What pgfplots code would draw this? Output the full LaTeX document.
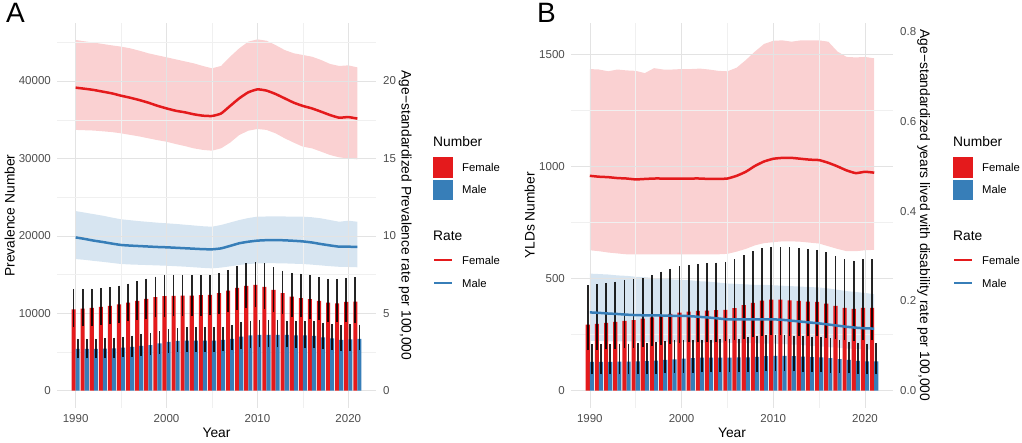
\documentclass[border=0pt]{standalone}
\usepackage{pgfplots}
\pgfplotsset{compat=1.18}
\usepackage{pgfplotstable}
\usepgfplotslibrary{fillbetween}
\usepackage{fontspec}
\setmainfont{Liberation Sans}
\definecolor{fem}{HTML}{E41A1C}
\definecolor{mal}{HTML}{377EB8}
\definecolor{gmaj}{HTML}{E3E3E3}
\definecolor{gmin}{HTML}{F0F0F0}
\definecolor{tickc}{HTML}{4D4D4D}

% Panel A: prevalence number (val, lower, upper)
\pgfplotstableread{
year val lo hi
1990 10517 8280 13150
1991 10600 8330 13150
1992 10690 8400 13190
1993 10820 8500 13230
1994 10950 8600 13400
1995 11160 8790 13580
1996 11380 8940 13840
1997 11600 9110 14140
1998 11850 9300 14480
1999 12070 9470 14740
2000 12200 9480 14910
2001 12240 9610 14950
2002 12280 9640 14950
2003 12290 9650 14910
2004 12330 9680 14910
2005 12370 9780 15000
2006 12600 9900 15170
2007 12930 10150 15600
2008 13280 10430 16120
2009 13530 10620 16470
2010 13660 10780 16600
2011 13400 10520 16470
2012 13020 10220 15950
2013 12590 9880 15520
2014 12150 9540 15220
2015 11940 9480 15130
2016 11810 9270 15000
2017 11600 9100 14660
2018 11380 8930 14440
2019 11290 8860 14440
2020 11470 8900 14570
2021 11510 8790 14660
}\numAF
\pgfplotstableread{
year val lo hi
1990 5390 4180 6720
1991 5390 4180 6720
1992 5400 4190 6730
1993 5430 4210 6760
1994 5470 4240 6840
1995 5560 4320 6980
1996 5650 4390 7100
1997 5780 4490 7280
1998 5900 4590 7460
1999 6120 4760 7700
2000 6290 4900 7930
2001 6420 5000 8060
2002 6470 5040 8190
2003 6470 5040 8190
2004 6470 5040 8190
2005 6470 5040 8190
2006 6550 5100 8280
2007 6680 5200 8490
2008 6980 5430 8880
2009 7150 5570 9050
2010 7200 5600 9140
2011 7200 5600 9140
2012 7200 5600 9140
2013 7200 5600 9050
2014 7150 5570 9050
2015 7150 5570 9050
2016 7070 5500 9050
2017 6900 5370 8790
2018 6770 5270 8620
2019 6550 5100 8490
2020 6640 5170 8580
2021 6680 5200 8530
}\numAM
% Panel A: age-standardized prevalence rate
\pgfplotstableread{
year f fl fh m ml mh
1990 19.57 16.84 22.65 9.90 8.50 11.60
1991 19.50 16.82 22.56 9.80 8.45 11.50
1992 19.42 16.80 22.48 9.69 8.38 11.40
1993 19.31 16.75 22.39 9.60 8.32 11.30
1994 19.20 16.70 22.30 9.50 8.25 11.18
1995 19.05 16.62 22.22 9.41 8.18 11.07
1996 18.92 16.52 22.11 9.37 8.15 11.01
1997 18.77 16.42 21.96 9.34 8.13 10.95
1998 18.60 16.30 21.79 9.31 8.11 10.90
1999 18.40 16.18 21.66 9.28 8.09 10.85
2000 18.23 16.08 21.53 9.26 8.07 10.81
2001 18.08 15.93 21.40 9.23 8.04 10.77
2002 17.98 15.80 21.27 9.20 8.01 10.72
2003 17.85 15.65 21.14 9.17 7.97 10.67
2004 17.76 15.55 20.97 9.14 7.93 10.62
2005 17.74 15.50 20.82 9.13 7.90 10.59
2006 17.90 15.65 20.97 9.19 7.95 10.70
2007 18.39 16.02 21.57 9.35 8.03 10.86
2008 18.88 16.51 22.11 9.52 8.12 11.02
2009 19.27 16.79 22.54 9.62 8.18 11.15
2010 19.46 16.90 22.69 9.69 8.22 11.24
2011 19.38 16.84 22.60 9.72 8.23 11.25
2012 19.16 16.62 22.32 9.73 8.23 11.25
2013 18.88 16.30 22.00 9.71 8.22 11.25
2014 18.60 16.02 21.79 9.68 8.20 11.24
2015 18.39 15.76 21.68 9.64 8.18 11.24
2016 18.23 15.65 21.57 9.57 8.14 11.20
2017 18.02 15.44 21.36 9.47 8.09 11.13
2018 17.80 15.22 21.10 9.38 8.04 11.02
2019 17.63 15.07 20.97 9.30 8.00 10.91
2020 17.67 15.00 21.01 9.30 7.99 10.98
2021 17.57 14.94 20.88 9.28 7.97 10.91
}\rateA
% Panel B: YLDs number
\pgfplotstableread{
year val lo hi
1990 295 180 469
1991 298 182 475
1992 302 184 481
1993 307 187 486
1994 311 190 494
1995 315 192 498
1996 321 196 504
1997 327 199 516
1998 333 203 531
1999 342 209 543
2000 348 212 554
2001 353 215 561
2002 356 217 565
2003 357 218 568
2004 359 219 571
2005 360 220 574
2006 368 224 586
2007 381 232 604
2008 391 239 622
2009 402 245 634
2010 406 248 640
2011 406 248 640
2012 403 246 640
2013 400 244 635
2014 397 242 631
2015 396 242 628
2016 388 237 618
2017 378 231 601
2018 369 225 586
2019 365 223 580
2020 369 225 586
2021 369 225 586
}\numBF
\pgfplotstableread{
year val lo hi
1990 129 73 207
1991 129 73 208
1992 129 73 209
1993 130 73 210
1994 130 73 210
1995 131 74 211
1996 132 74 214
1997 134 75 218
1998 137 77 222
1999 140 79 224
2000 143 80 226
2001 145 81 227
2002 147 82 228
2003 147 82 228
2004 147 82 229
2005 147 82 229
2006 148 83 231
2007 149 84 238
2008 151 85 244
2009 154 86 247
2010 155 87 248
2011 155 87 248
2012 154 86 246
2013 152 85 244
2014 150 84 241
2015 148 83 239
2016 145 81 235
2017 141 79 227
2018 137 77 219
2019 133 75 214
2020 131 73 210
2021 131 73 211
}\numBM
% Panel B: age-standardized YLD rate
\pgfplotstableread{
year f fl fh m ml mh
1990 0.479 0.313 0.717 0.1745 0.111 0.261
1991 0.477 0.311 0.716 0.1735 0.111 0.260
1992 0.476 0.308 0.712 0.172 0.110 0.259
1993 0.474 0.306 0.716 0.171 0.110 0.257
1994 0.473 0.304 0.714 0.1695 0.110 0.256
1995 0.471 0.304 0.713 0.1685 0.110 0.254
1996 0.472 0.304 0.708 0.168 0.109 0.253
1997 0.473 0.304 0.719 0.168 0.109 0.251
1998 0.473 0.304 0.716 0.1675 0.109 0.250
1999 0.473 0.304 0.716 0.167 0.108 0.248
2000 0.473 0.304 0.717 0.167 0.108 0.247
2001 0.473 0.304 0.717 0.166 0.108 0.246
2002 0.473 0.304 0.718 0.1645 0.107 0.244
2003 0.472 0.304 0.716 0.163 0.107 0.243
2004 0.472 0.304 0.713 0.161 0.107 0.241
2005 0.473 0.305 0.712 0.159 0.107 0.239
2006 0.479 0.310 0.720 0.159 0.106 0.238
2007 0.488 0.316 0.737 0.159 0.106 0.237
2008 0.501 0.324 0.756 0.159 0.106 0.236
2009 0.511 0.329 0.773 0.159 0.105 0.236
2010 0.517 0.331 0.780 0.159 0.105 0.235
2011 0.519 0.333 0.781 0.158 0.104 0.234
2012 0.519 0.333 0.778 0.156 0.103 0.233
2013 0.517 0.332 0.781 0.154 0.102 0.232
2014 0.515 0.330 0.781 0.152 0.100 0.231
2015 0.514 0.328 0.781 0.150 0.099 0.230
2016 0.508 0.322 0.778 0.1475 0.097 0.228
2017 0.500 0.316 0.756 0.145 0.096 0.225
2018 0.491 0.311 0.744 0.1425 0.094 0.222
2019 0.485 0.311 0.743 0.1405 0.093 0.220
2020 0.488 0.313 0.744 0.139 0.092 0.218
2021 0.486 0.314 0.741 0.1385 0.091 0.215
}\rateB

\pgfplotsset{
  base/.style={
    scale only axis, height=385.5pt,
    xmin=1987.95, xmax=2023.05,
    axis line style={draw=none},
    major tick style={draw=none}, minor tick style={draw=none},
    scaled ticks=false,
    /pgf/number format/assume math mode=true,
    /pgf/number format/1000 sep={},
    tick label style={font=\fontsize{11.5}{12}\selectfont, text=tickc},
  },
  numaxis/.style={
    base,
    xtick={1990,2000,2010,2020}, minor xtick={1995,2005,2015},
    grid=both,
    major grid style={gmaj, line width=0.6pt},
    minor grid style={gmin, line width=0.4pt},
    yticklabel style={anchor=east, inner sep=0pt, xshift=-6pt},
    xticklabel style={anchor=north, inner sep=0pt, yshift=-6.5pt},
  },
  rateaxis/.style={
    base, xtick=\empty, yticklabel pos=right,
    yticklabel style={anchor=west, inner sep=0pt, xshift=7pt},
  },
  errs/.style={error bars/.cd, y dir=both, y explicit, error mark=none,
    error bar style={line width=1.7pt, black, opacity=0.85}},
  barbase/.style={ybar, bar width=0.45, bar shift=0pt, draw=none, errs},
}
\newcommand{\ttl}{\fontsize{13.8}{14}\selectfont}
\newcommand{\lbl}{\fontsize{11.3}{12}\selectfont}

\begin{document}
\begin{tikzpicture}

% ---------------- Panel A ----------------
\begin{axis}[numaxis, at={(57pt,33.8pt)}, anchor=south west, width=319pt,
  ymin=-2263, ymax=47530,
  ytick={0,10000,20000,30000,40000}, minor ytick={5000,15000,25000,35000,45000}]
\addplot[fill=fem, barbase] table[x expr=\thisrow{year}-0.225, y=val, y error plus expr=\thisrow{hi}-\thisrow{val}, y error minus expr=\thisrow{val}-\thisrow{lo}] {\numAF};
\addplot[fill=mal, barbase] table[x expr=\thisrow{year}+0.225, y=val, y error plus expr=\thisrow{hi}-\thisrow{val}, y error minus expr=\thisrow{val}-\thisrow{lo}] {\numAM};
\end{axis}
\begin{axis}[rateaxis, at={(57pt,33.8pt)}, anchor=south west, width=319pt,
  ymin=-1.1315, ymax=23.765, ytick={0,5,10,15,20}]
\addplot[name path=afh, draw=none] table[x=year,y=fh] {\rateA};
\addplot[name path=afl, draw=none] table[x=year,y=fl] {\rateA};
\addplot[fill=fem, fill opacity=0.2, draw=none] fill between[of=afh and afl];
\addplot[name path=amh, draw=none] table[x=year,y=mh] {\rateA};
\addplot[name path=aml, draw=none] table[x=year,y=ml] {\rateA};
\addplot[fill=mal, fill opacity=0.2, draw=none] fill between[of=amh and aml];
\addplot[fem, line width=2.5pt, smooth, tension=0.3] table[x=year,y=f] {\rateA};
\addplot[mal, line width=2.5pt, smooth, tension=0.3] table[x=year,y=m] {\rateA};
\end{axis}

% ---------------- Panel B ----------------
\begin{axis}[numaxis, at={(571pt,33.8pt)}, anchor=south west, width=322pt,
  ymin=-78.1, ymax=1640.7,
  ytick={0,500,1000,1500}, minor ytick={250,750,1250}]
\addplot[fill=fem, barbase] table[x expr=\thisrow{year}-0.225, y=val, y error plus expr=\thisrow{hi}-\thisrow{val}, y error minus expr=\thisrow{val}-\thisrow{lo}] {\numBF};
\addplot[fill=mal, barbase] table[x expr=\thisrow{year}+0.225, y=val, y error plus expr=\thisrow{hi}-\thisrow{val}, y error minus expr=\thisrow{val}-\thisrow{lo}] {\numBM};
\end{axis}
\begin{axis}[rateaxis, at={(571pt,33.8pt)}, anchor=south west, width=322pt,
  ymin=-0.03905, ymax=0.82035, ytick={0,0.2,0.4,0.6,0.8},
  yticklabel style={/pgf/number format/.cd, fixed, fixed zerofill, precision=1}]
\addplot[name path=bfh, draw=none] table[x=year,y=fh] {\rateB};
\addplot[name path=bfl, draw=none] table[x=year,y=fl] {\rateB};
\addplot[fill=fem, fill opacity=0.2, draw=none] fill between[of=bfh and bfl];
\addplot[name path=bmh, draw=none] table[x=year,y=mh] {\rateB};
\addplot[name path=bml, draw=none] table[x=year,y=ml] {\rateB};
\addplot[fill=mal, fill opacity=0.2, draw=none] fill between[of=bmh and bml];
\addplot[fem, line width=2.5pt, smooth, tension=0.3] table[x=year,y=f] {\rateB};
\addplot[mal, line width=2.5pt, smooth, tension=0.3] table[x=year,y=m] {\rateB};
\end{axis}

% ---------------- Titles ----------------
\node[anchor=base west, inner sep=0pt] at (6pt,419.3pt) {\fontsize{28}{28}\selectfont A};
\node[anchor=base west, inner sep=0pt] at (537pt,419.3pt) {\fontsize{28}{28}\selectfont B};
\node[anchor=base, inner sep=0pt] at (216.5pt,5pt) {\ttl Year};
\node[anchor=base, inner sep=0pt] at (732pt,5pt) {\ttl Year};
\node[anchor=base, inner sep=0pt, rotate=90] at (14.5pt,226.5pt) {\ttl Prevalence Number};
\node[anchor=base, inner sep=0pt, rotate=90] at (534.5pt,226.5pt) {\ttl YLDs Number};
\node[anchor=base, inner sep=0pt, rotate=-90] at (401.5pt,226.5pt) {\ttl Age−standardized Prevalence rate per 100,000};
\node[anchor=base, inner sep=0pt, rotate=-90] at (920pt,226.5pt) {\ttl Age−standardized years lived with disability rate per 100,000};

% ---------------- Legends ----------------
\foreach \x in {433,953} {
  \node[anchor=base west, inner sep=0pt] at (\x pt,295pt) {\ttl Number};
  \fill[fem] (\x pt,264.3pt) rectangle ++(20pt,20.5pt);
  \fill[mal] (\x pt,242pt) rectangle ++(20pt,20pt);
  \node[anchor=base west, inner sep=0pt] at (\x pt+29pt,270pt) {\lbl Female};
  \node[anchor=base west, inner sep=0pt] at (\x pt+29pt,248pt) {\lbl Male};
  \node[anchor=base west, inner sep=0pt] at (\x pt,201.3pt) {\ttl Rate};
  \draw[fem, line width=2pt] (\x pt+1pt,182pt) -- ++(18pt,0);
  \draw[mal, line width=2pt] (\x pt+1pt,159pt) -- ++(18pt,0);
  \node[anchor=base west, inner sep=0pt] at (\x pt+29pt,177pt) {\lbl Female};
  \node[anchor=base west, inner sep=0pt] at (\x pt+29pt,154.7pt) {\lbl Male};
}
\pgfresetboundingbox
\useasboundingbox (0,0) rectangle (1022pt,442pt);
\end{tikzpicture}
\end{document}
